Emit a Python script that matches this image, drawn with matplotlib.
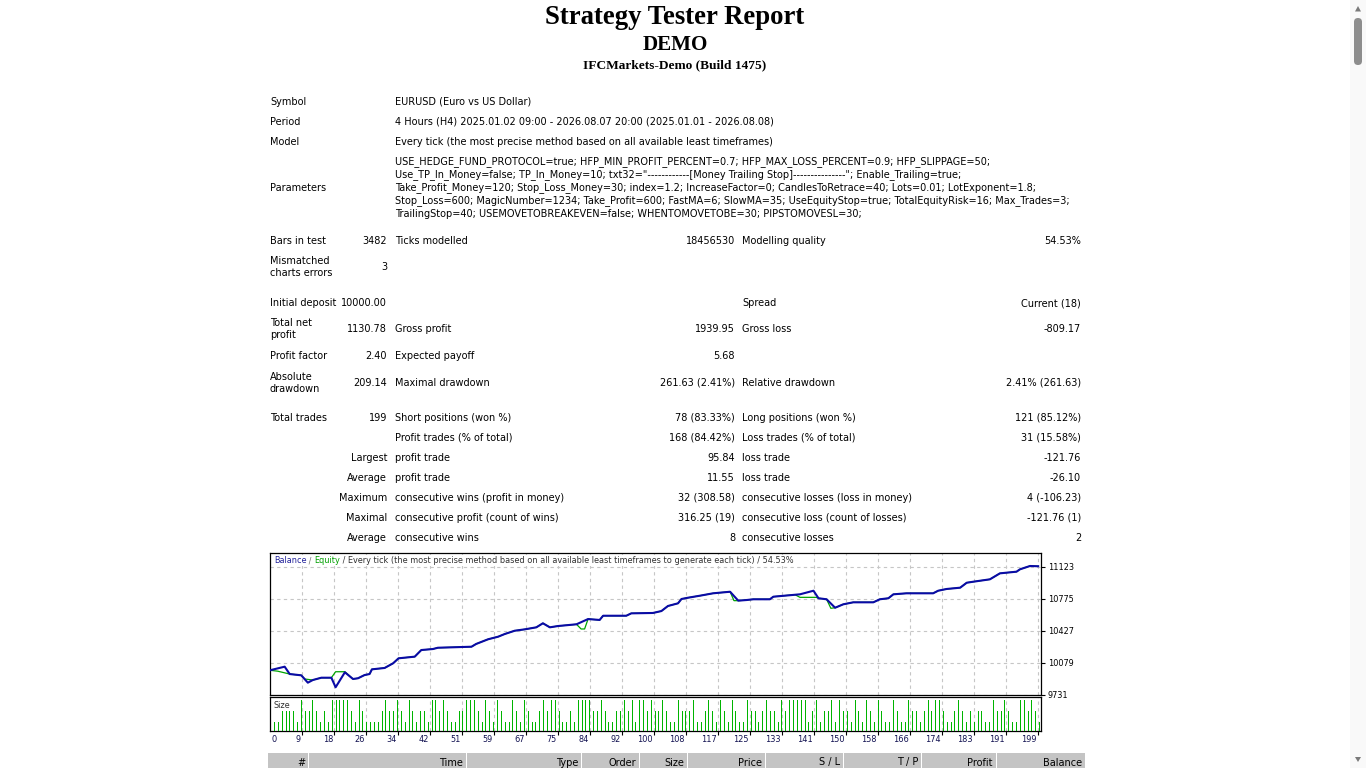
import matplotlib
matplotlib.use("Agg")
import matplotlib.pyplot as plt
from matplotlib import font_manager as fm
from matplotlib.patches import Rectangle, FancyBboxPatch, Polygon

W, H = 1366, 768

# ---------------- data ----------------
report_title = "Strategy Tester Report"
report_account = "DEMO"
report_server = "IFCMarkets-Demo (Build 1475)"

general_labels = ["Symbol", "Period", "Model"]
general_values = [
    "EURUSD (Euro vs US Dollar)",
    "4 Hours (H4) 2025.01.02 09:00 - 2026.08.07 20:00 (2025.01.01 - 2026.08.08)",
    "Every tick (the most precise method based on all available least timeframes)",
]
parameters_label = "Parameters"
parameter_lines = [
    "USE_HEDGE_FUND_PROTOCOL=true; HFP_MIN_PROFIT_PERCENT=0.7; HFP_MAX_LOSS_PERCENT=0.9; HFP_SLIPPAGE=50;",
    'Use_TP_In_Money=false; TP_In_Money=10; txt32="------------[Money Trailing Stop]---------------"; Enable_Trailing=true;',
    "Take_Profit_Money=120; Stop_Loss_Money=30; index=1.2; IncreaseFactor=0; CandlesToRetrace=40; Lots=0.01; LotExponent=1.8;",
    "Stop_Loss=600; MagicNumber=1234; Take_Profit=600; FastMA=6; SlowMA=35; UseEquityStop=true; TotalEquityRisk=16; Max_Trades=3;",
    "TrailingStop=40; USEMOVETOBREAKEVEN=false; WHENTOMOVETOBE=30; PIPSTOMOVESL=30;",
]

stats_label1 = ["Bars in test", "Mismatched\ncharts errors", "Initial deposit", "Total net\nprofit",
                "Profit factor", "Absolute\ndrawdown", "Total trades", "", "", "", "", "", ""]
stats_value1 = ["3482", "3", "10000.00", "1130.78", "2.40", "209.14", "199", "",
                "Largest", "Average", "Maximum", "Maximal", "Average"]
stats_label2 = ["Ticks modelled", "", "", "Gross profit", "Expected payoff", "Maximal drawdown",
                "Short positions (won %)", "Profit trades (% of total)", "profit trade", "profit trade",
                "consecutive wins (profit in money)", "consecutive profit (count of wins)", "consecutive wins"]
stats_value2 = ["18456530", "", "", "1939.95", "5.68", "261.63 (2.41%)", "78 (83.33%)", "168 (84.42%)",
                "95.84", "11.55", "32 (308.58)", "316.25 (19)", "8"]
stats_label3 = ["Modelling quality", "", "Spread", "Gross loss", "", "Relative drawdown",
                "Long positions (won %)", "Loss trades (% of total)", "loss trade", "loss trade",
                "consecutive losses (loss in money)", "consecutive loss (count of losses)", "consecutive losses"]
stats_value3 = ["54.53%", "", "Current (18)", "-809.17", "", "2.41% (261.63)", "121 (85.12%)", "31 (15.58%)",
                "-121.76", "-26.10", "4 (-106.23)", "-121.76 (1)", "2"]

chart_caption = ["Balance", " / ", "Equity", " / Every tick (the most precise method based on all available least timeframes to generate each tick) / 54.53%"]

balance_trade = [0, 3.8, 5.1, 8.1, 9.8, 11.1, 13.3, 15.9, 17.0, 19.4, 21.5, 22.8, 24.5, 25.8, 26.4, 29.7,
                 31.9, 33.3, 37.5, 39.2, 42.2, 43.5, 52.2, 53.4, 56.5, 59.1, 60.8, 63.4, 66.0, 69.0, 70.7,
                 72.5, 74.6, 79.4, 82.4, 85.4, 86.3, 92.3, 93.6, 99.2, 101.4, 103.1, 105.7, 106.6, 108.3,
                 111.4, 114.8, 119.2, 121.3, 123.5, 125.2, 129.5, 130.4, 137.3, 140.8, 142.1, 144.2, 146.4,
                 148.5, 151.1, 156.3, 158.0, 160.2, 161.5, 164.9, 171.8, 173.1, 175.3, 178.8, 180.5, 182.2,
                 186.5, 189.1, 193.4, 194.3, 196.9, 199.0]
balance_value = [10000, 10039, 9959, 9945, 9865, 9894, 9919, 9919, 9815, 9978, 9905, 9913, 9948, 9959, 10010,
                 10025, 10076, 10130, 10148, 10220, 10231, 10245, 10256, 10286, 10337, 10365, 10394, 10430,
                 10445, 10467, 10511, 10467, 10481, 10500, 10557, 10547, 10593, 10593, 10619, 10623, 10644,
                 10699, 10728, 10775, 10789, 10811, 10837, 10854, 10757, 10764, 10772, 10772, 10800, 10826,
                 10865, 10783, 10772, 10680, 10717, 10739, 10739, 10772, 10783, 10826, 10837, 10837, 10865,
                 10884, 10898, 10952, 10963, 10989, 11054, 11072, 11098, 11134, 11131]

equity_trade = [0, 2.0, 5.1, 8.1, 9.0, 11.1, 13.3, 15.9, 17.0, 19.4, 21.5, 22.8, 24.5, 25.8, 26.4, 29.7,
                31.9, 33.3, 37.5, 39.2, 42.2, 43.5, 52.2, 53.4, 56.5, 59.1, 60.8, 63.4, 66.0, 69.0, 70.7,
                72.5, 74.6, 79.4, 80.6, 81.5, 82.4, 85.4, 86.3, 92.3, 93.6, 99.2, 101.4, 103.1, 105.7, 106.6,
                108.3, 111.4, 114.8, 119.2, 120.2, 121.3, 123.5, 125.2, 129.5, 130.4, 136.0, 137.3, 141.5,
                142.1, 144.2, 145.3, 146.4, 148.5, 151.1, 156.3, 158.0, 160.2, 161.5, 164.9, 171.8, 173.1,
                175.3, 178.8, 180.5, 182.2, 186.5, 189.1, 193.4, 194.3, 196.9, 199.0]
equity_value = [10000, 9990, 9959, 9945, 9905, 9894, 9919, 9919, 9984, 9984, 9905, 9913, 9948, 9959, 10010,
                10025, 10076, 10130, 10148, 10220, 10231, 10245, 10256, 10286, 10337, 10365, 10394, 10430,
                10445, 10467, 10511, 10467, 10481, 10500, 10449, 10449, 10557, 10547, 10593, 10593, 10619,
                10623, 10644, 10699, 10728, 10775, 10789, 10811, 10837, 10854, 10757, 10757, 10764, 10772,
                10772, 10800, 10822, 10793, 10793, 10783, 10772, 10674, 10680, 10717, 10739, 10739, 10772,
                10783, 10826, 10837, 10837, 10865, 10884, 10898, 10952, 10963, 10989, 11054, 11072, 11098,
                11134, 11131]

y_tick_values = [9731, 10079, 10427, 10775, 11123]
x_tick_labels = ["0", "9", "18", "26", "34", "42", "51", "59", "67", "75", "84", "92", "100", "108", "117",
                 "125", "133", "141", "150", "158", "166", "174", "183", "191", "199"]

S, M, T = 0.01, 0.02, 0.03
trade_sizes = [
    S, S, M, M, M, M, S, T, M, M, T, M, S, M, S, T, T, T, T, T, M, S, T, M, S, S, S, S, M, T,
    M, M, T, M, S, T, M, S, M, M, S, T, T, M, T, M, S, S, M,
    M, T, T, T, M, S, T, M, S, T, M, S, S, T, M, S, T, M, S, S, M, T, M, T, T, M, S, S, M, S,
    T, T, T, T, M, M, T, M, S, S, M, M, T, M, T, S, T, T, M, T,
    M, M, T, M, S, S, T, M, M, M, T, S, S, M, T, M, S, T, M, S, T, M, S, S, T, M, M, S, M, T,
    M, M, S, T, M, T, T, T, T, T, S, M, T, S, M, M, T, S, T, M,
    M, S, T, M, S, T, M, S, T, M, S, S, T, M, S, S, T, M, M, S, M, T, M, T, T, M, S, S, M, T,
    M, S, M, S, M, M, S, S, T, M, M, T, M, S, S, T, T, M, T, M, S,
]

header_labels = ["#", "Time", "Type", "Order", "Size", "Price", "S / L", "T / P", "Profit", "Balance"]

# ---------------- fonts ----------------
available = {f.name for f in fm.fontManager.ttflist}
def pick(*names):
    for n in names:
        if n in available:
            return n
    return "DejaVu Sans"
SANS = pick("DejaVu Sans Condensed", "DejaVu Sans")
SERIF = pick("Liberation Serif", "DejaVu Serif")

# ---------------- figure ----------------
fig = plt.figure(figsize=(W / 100, H / 100), dpi=100)
fig.patch.set_facecolor("white")
bg = fig.add_axes([0, 0, 1, 1])
bg.set_xlim(0, W)
bg.set_ylim(H, 0)
bg.axis("off")
renderer = fig.canvas.get_renderer()

def width_of(t):
    return t.get_window_extent(renderer).width

def fit(t, target):
    t.set_fontsize(t.get_fontsize() * target / width_of(t))
    return t

# titles
fit(bg.text(675, 18, report_title, family=SERIF, weight="bold", fontsize=20, ha="center", va="center"), 259)
fit(bg.text(675, 45, report_account, family=SERIF, weight="bold", fontsize=15, ha="center", va="center"), 66)
fit(bg.text(675, 65, report_server, family=SERIF, weight="bold", fontsize=10, ha="center", va="center"), 183)

# table font size from the longest parameter line
probe = bg.text(395, 162, parameter_lines[0], family=SANS, fontsize=8, va="center")
fit(probe, 598)
FS = probe.get_fontsize()

def txt(x, y, s, ha="left"):
    if s:
        bg.text(x, y, s, family=SANS, fontsize=FS, ha=ha, va="center", color="black", linespacing=1.25)

general_y = [102, 122, 142]
for lab, val, y in zip(general_labels, general_values, general_y):
    txt(270, y, lab)
    txt(395, y, val)
txt(270, 188, parameters_label)
param_y = [162, 175, 188, 201, 214]
for i, (line, y) in enumerate(zip(parameter_lines, param_y)):
    if i > 0:
        txt(395, y, line)

stats_y = [241, 267.5, 303, 329.5, 356, 382.5, 418, 438, 458, 478, 498, 518, 538]
for i, y in enumerate(stats_y):
    txt(270, y, stats_label1[i])
    txt(387, y, stats_value1[i], ha="right")
    txt(395, y, stats_label2[i])
    txt(735, y, stats_value2[i], ha="right")
    txt(742, y, stats_label3[i])
    txt(1081, y, stats_value3[i], ha="right")

# bottom table header row
cell_edges = [(268, 308), (309, 466), (467, 581), (582, 639), (640, 687), (688, 765),
              (766, 843), (844, 921), (922, 996), (997, 1085)]
for (x0, x1), lab in zip(cell_edges, header_labels):
    bg.add_patch(Rectangle((x0, 753), x1 - x0, 20, facecolor="#c4c4c4", edgecolor="none"))
    txt(x1 - 3, 762.5, lab, ha="right")

# scrollbar
bg.add_patch(Rectangle((1350, 0), 16, H, facecolor="#f9f9f9", edgecolor="none"))
bg.add_patch(FancyBboxPatch((1354, 18), 8, 47, boxstyle="round,pad=0,rounding_size=4",
                            facecolor="#8d8d8d", edgecolor="none"))
bg.add_patch(Polygon([[1355, 11.5], [1361, 11.5], [1358, 6]], closed=True, facecolor="#7a7a7a", edgecolor="none"))
bg.add_patch(Polygon([[1355, 757], [1361, 757], [1358, 762]], closed=True, facecolor="#7a7a7a", edgecolor="none"))

# ---------------- balance chart ----------------
PX_PER_VAL = 32 / 348.0
axb = fig.add_axes([270 / W, 1 - 695 / H, (1041 - 270) / W, (695 - 553) / H])
axb.set_xlim(0, (1041 - 270) / 3.86)
axb.set_ylim(9731, 9731 + (695 - 553) / PX_PER_VAL)
grid_x_bal = [(302 + 32 * k - 270) / 3.86 for k in range(24)]
axb.set_xticks(grid_x_bal)
axb.set_xticklabels([])
axb.tick_params(axis="x", length=0)
axb.set_yticks(y_tick_values)
axb.yaxis.tick_right()
axb.grid(True, linestyle=(0, (3, 3)), color="#c6c6c6", linewidth=0.8)
axb.plot(equity_trade, equity_value, color="#00a400", linewidth=0.9, zorder=3)
axb.plot(balance_trade, balance_value, color="#0a0aa6", linewidth=1.5, zorder=4)
for sp in axb.spines.values():
    sp.set_color("black")
    sp.set_linewidth(0.9)

# ---------------- size chart ----------------
axs = fig.add_axes([270 / W, 1 - 731 / H, (1041 - 270) / W, (731 - 697) / H])
axs.set_xlim(-1.04, 199.5)
axs.set_ylim(0.002, 0.0327)
axs.vlines(list(range(len(trade_sizes))), 0, trade_sizes, colors="#00b400", linewidths=0.72,
           antialiaseds=False, zorder=3)
grid_x_size = [-1.04 + 32 * k / 3.845 for k in range(25)]
axs.set_xticks(grid_x_size[1:])
axs.set_xticklabels([])
axs.tick_params(axis="x", direction="out", length=3, width=0.8)
axs.set_yticks([])
axs.grid(True, axis="x", linestyle=(0, (3, 3)), color="#c6c6c6", linewidth=0.8)
for sp in axs.spines.values():
    sp.set_color("black")
    sp.set_linewidth(0.9)

# ---------------- overlay texts (captions, axis labels) ----------------
top = fig.add_axes([0, 0, 1, 1])
top.set_xlim(0, W)
top.set_ylim(H, 0)
top.axis("off")
top.patch.set_alpha(0)

cap_colors = ["#22229a", "#707070", "#00a000", "#303030"]
parts = []
for s, c in zip(chart_caption, cap_colors):
    parts.append(top.text(274, 560.5, s, family=SANS, fontsize=6.5, color=c, va="center", zorder=10))
total = sum(width_of(p) for p in parts)
CFS = 6.5 * 523.0 / total
cx = 274
for p in parts:
    p.set_fontsize(CFS)
    p.set_x(cx)
    cx += width_of(p)
top.add_patch(Rectangle((272, 554.5), cx - 272 + 2, 11, facecolor="white", edgecolor="none", zorder=5))

top.add_patch(Rectangle((272, 699), 20, 12, facecolor="white", edgecolor="none", zorder=5))
top.text(274, 706, "Size", family=SANS, fontsize=CFS, color="#303030", va="center", zorder=10)

axb.tick_params(axis="y", direction="out", length=3, width=0.8, pad=2, labelsize=CFS)
for lbl in axb.get_yticklabels():
    lbl.set_family(SANS)

for k, lab in enumerate(x_tick_labels):
    px = 270 + 32 * k
    if k == 0:
        top.text(272, 739, lab, family=SANS, fontsize=CFS, color="#101050", ha="left", va="center")
    else:
        top.text(px - 1, 739, lab, family=SANS, fontsize=CFS, color="#101050", ha="right", va="center")

fig.savefig("out.png", dpi=100)
